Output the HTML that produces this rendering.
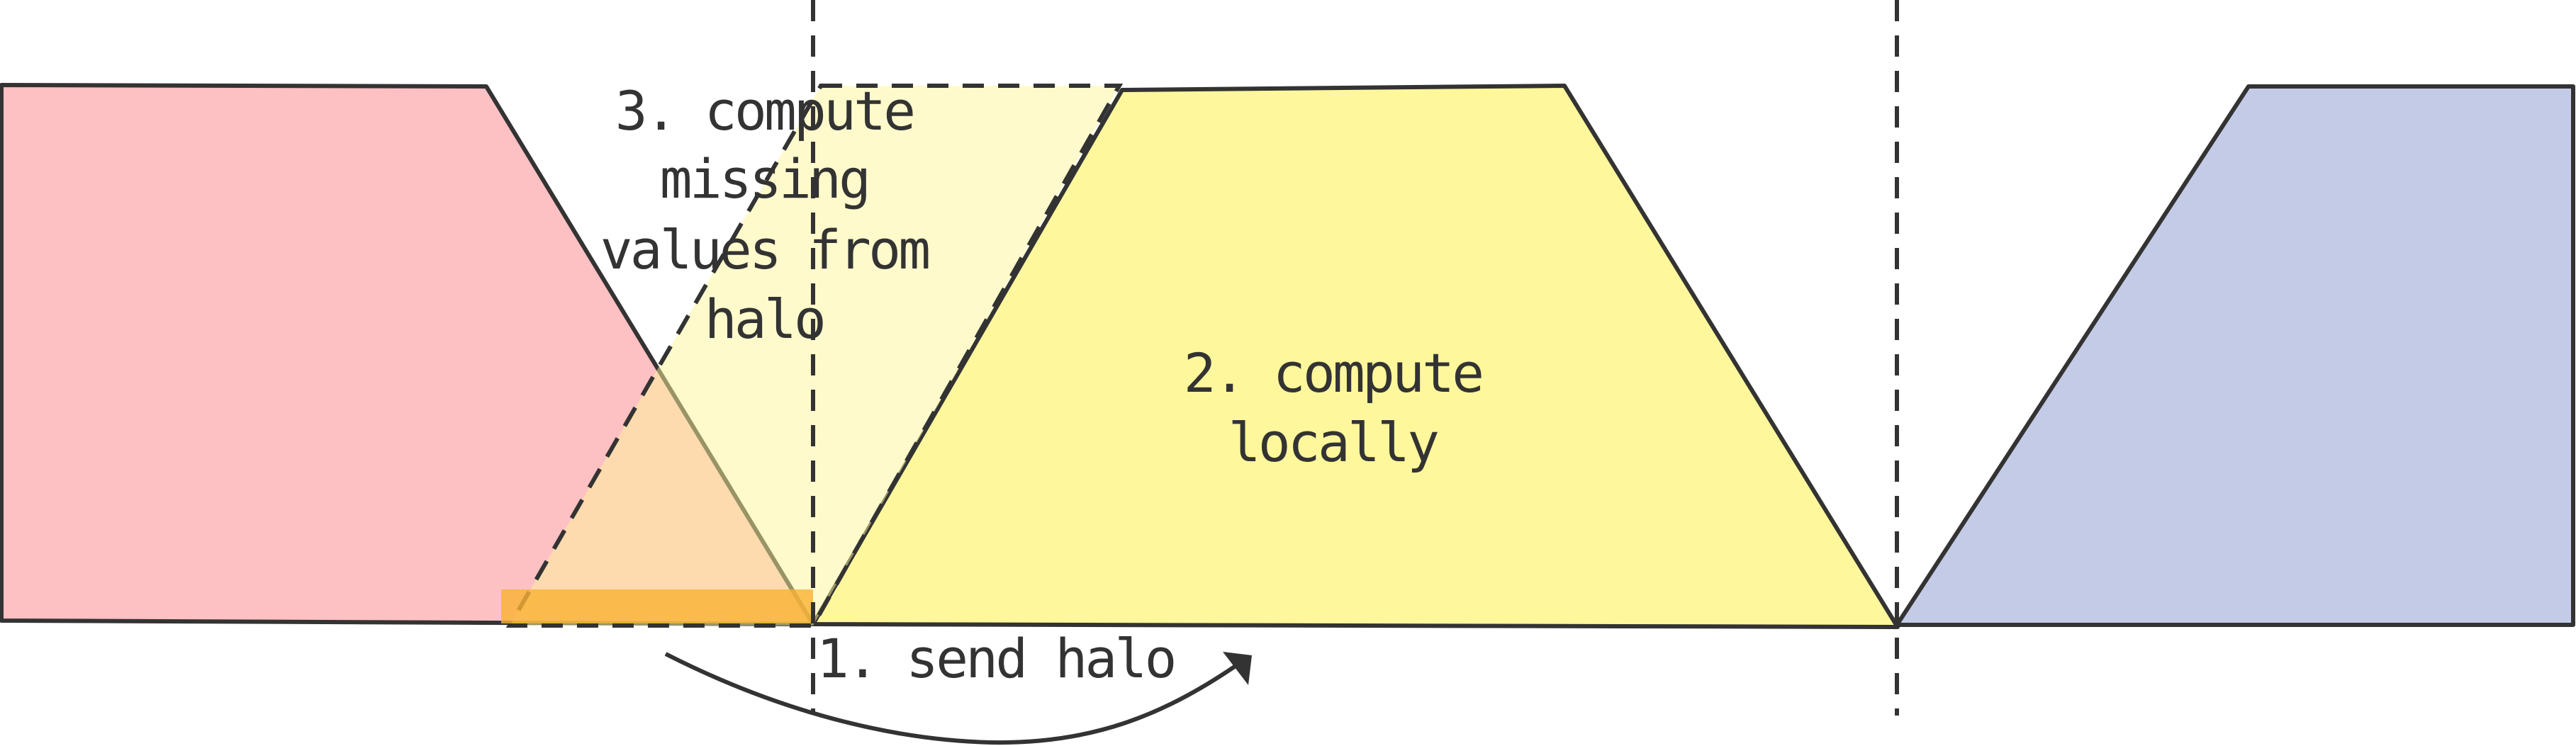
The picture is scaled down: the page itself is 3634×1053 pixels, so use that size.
<!DOCTYPE html>
<html><head><meta charset="utf-8"><style>
html,body{margin:0;padding:0;background:#fff;}
svg{display:block;}
text{font-family:"DejaVu Sans Mono","Liberation Mono",monospace;font-size:76px;letter-spacing:-3.7px;fill:#333;}
</style></head><body>
<svg width="3634" height="1053" viewBox="0 0 3634 1053" xmlns="http://www.w3.org/2000/svg">
<polygon points="2,120 686,122 1147,881 2,876" fill="#fdc0c3" stroke="#333" stroke-width="6" stroke-linejoin="round"/>
<polygon points="1583,127 2207,121 2677,885 1147,881" fill="#fff79c" stroke="#333" stroke-width="6" stroke-linejoin="round"/>
<polygon points="2676,882 3172,122 3630,122 3630,882" fill="#c4cbe6" stroke="#333" stroke-width="6" stroke-linejoin="round"/>
<polygon points="1158,121 1579,121 1147,883 719,883" fill="#fff59a" fill-opacity="0.5" stroke="#333" stroke-width="6" stroke-dasharray="30,20"/>
<rect x="707" y="832" width="440" height="48" fill="#f9b233" fill-opacity="0.8"/>
<line x1="1147" y1="0" x2="1147" y2="1007" stroke="#333" stroke-width="6" stroke-dasharray="30,20"/>
<line x1="2676" y1="0" x2="2676" y2="1010" stroke="#333" stroke-width="6" stroke-dasharray="30,20"/>
<path d="M939,923 C1100,1005 1260,1045 1400,1048 C1540,1050 1640,1010 1743,940" fill="none" stroke="#333" stroke-width="6"/>
<polygon points="1725,920 1766,925 1761,967" fill="#333"/>
<text x="1078" y="183" text-anchor="middle">3. compute</text>
<text x="1078" y="279" text-anchor="middle">missing</text>
<text x="1078" y="379" text-anchor="middle">values from</text>
<text x="1078" y="477" text-anchor="middle">halo</text>
<text x="1880" y="553" text-anchor="middle">2. compute</text>
<text x="1880" y="651" text-anchor="middle">locally</text>
<text x="1152" y="956">1. send halo</text>
</svg>
</body></html>
